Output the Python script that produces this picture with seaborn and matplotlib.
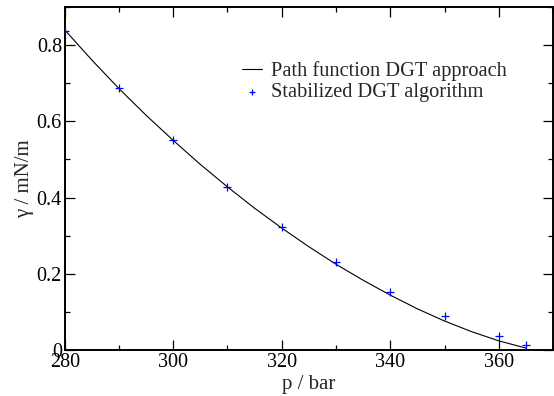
import matplotlib
matplotlib.use("Agg")
import matplotlib.pyplot as plt
from matplotlib.ticker import MultipleLocator
import seaborn as sns
import pandas as pd

# Path function DGT approach (curve)
p_line = [280, 285, 290, 295, 300, 305, 310, 315, 320, 325, 330, 335, 340, 345, 350, 355, 360, 365]
gamma_line = [0.840, 0.761, 0.686, 0.616, 0.550, 0.487, 0.428, 0.372, 0.320, 0.271, 0.225, 0.183,
              0.144, 0.108, 0.076, 0.048, 0.024, 0.005]

# Stabilized DGT algorithm (points)
p_pts = [280, 290, 300, 310, 320, 330, 340, 350, 360, 365]
gamma_pts = [0.837, 0.687, 0.552, 0.429, 0.324, 0.232, 0.153, 0.089, 0.037, 0.014]

line_label = "Path function DGT approach"
pts_label = "Stabilized DGT algorithm"

sns.set_theme(style="white")
plt.rcParams['font.family'] = ['Liberation Serif', 'DejaVu Serif']

df_line = pd.DataFrame({"p": p_line, "gamma": gamma_line})
df_pts = pd.DataFrame({"p": p_pts, "gamma": gamma_pts})

fig = plt.figure(figsize=(5.54, 3.96), dpi=100)
ax = fig.add_axes([0.1168, 0.1162, 0.8815, 0.866])

sns.lineplot(data=df_line, x="p", y="gamma", ax=ax, color="black", linewidth=0.8,
             label=line_label, sort=False)
sns.scatterplot(data=df_pts, x="p", y="gamma", ax=ax, color="#0000ff", marker="+",
                s=40, linewidth=0.9, label=pts_label, zorder=3)

ax.set_xlim(280, 370)
ax.set_ylim(0, 0.9)
ax.xaxis.set_major_locator(MultipleLocator(20))
ax.xaxis.set_minor_locator(MultipleLocator(10))
ax.set_yticks([0, 0.2, 0.4, 0.6, 0.8])
ax.set_yticklabels(["0", "0.2", "0.4", "0.6", "0.8"])
ax.yaxis.set_minor_locator(MultipleLocator(0.1))

ax.tick_params(which="both", direction="in", top=True, right=True, bottom=True, left=True,
               colors="black", labelsize=14.5, width=0.9, pad=2)
ax.tick_params(which="major", length=7.2)
ax.tick_params(which="minor", length=3.6)
for s in ax.spines.values():
    s.set_color("black")
    s.set_linewidth(1.4)

ax.set_xlabel("p / bar", fontsize=15, labelpad=2)
ax.set_ylabel("γ / mN/m", fontsize=15, labelpad=2)

leg = ax.legend(loc="center left", bbox_to_anchor=(242 / 554, 1 - 81.5 / 396),
                bbox_transform=fig.transFigure, frameon=False, fontsize=14.7,
                handlelength=1.0, handletextpad=0.4, labelspacing=0.1,
                borderpad=0, borderaxespad=0, markerscale=0.7)

fig.savefig("out.png", dpi=100)
